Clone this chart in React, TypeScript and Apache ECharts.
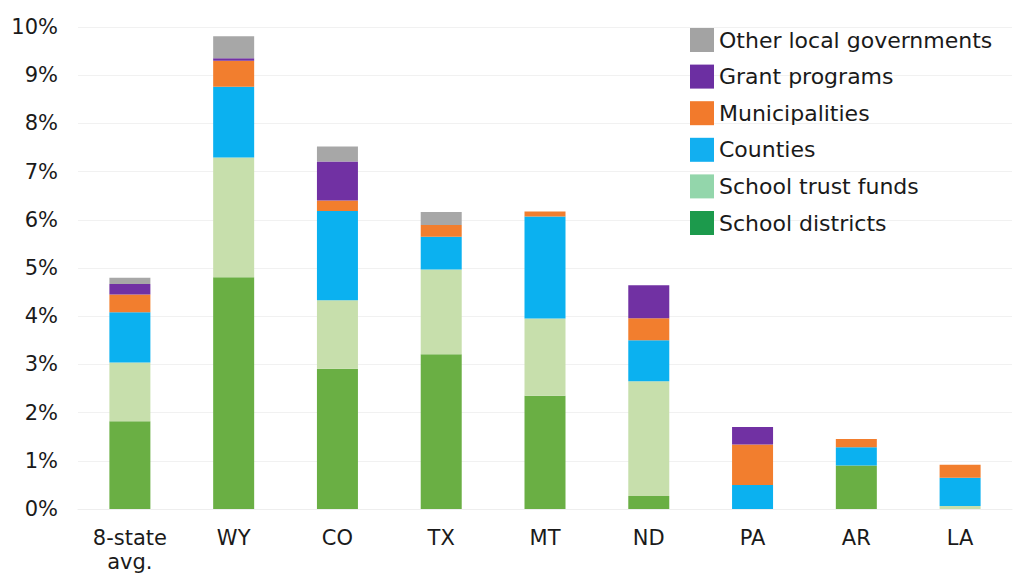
import React, { useEffect, useRef } from "react";
import * as echarts from "echarts";

const categories = ["8-state\navg.", "WY", "CO", "TX", "MT", "ND", "PA", "AR", "LA"];
const schoolDistricts = [1.82, 4.81, 2.91, 3.21, 2.35, 0.27, 0, 0.9, 0];
const schoolTrustFunds = [1.22, 2.48, 1.42, 1.76, 1.6, 2.38, 0, 0, 0.06];
const counties = [1.04, 1.47, 1.85, 0.68, 2.12, 0.85, 0.5, 0.38, 0.59];
const municipalities = [0.37, 0.54, 0.22, 0.24, 0.1, 0.46, 0.84, 0.17, 0.27];
const grantPrograms = [0.22, 0.05, 0.81, 0, 0, 0.68, 0.36, 0, 0];
const otherLocal = [0.13, 0.46, 0.31, 0.27, 0, 0, 0, 0, 0];
const yTicks = [0, 1, 2, 3, 4, 5, 6, 7, 8, 9, 10];

const FONT = "DejaVu Sans";

export default function App() {
  const ref = useRef<HTMLDivElement>(null);
  useEffect(() => {
    if (!ref.current) return;
    const chart = echarts.init(ref.current, undefined, { renderer: "svg" });
    const seriesDefs = [
      { name: "School districts", data: schoolDistricts, color: "#6aaf44", legend: "#1c9a4c" },
      { name: "School trust funds", data: schoolTrustFunds, color: "#c7dfac", legend: "#93d6ab" },
      { name: "Counties", data: counties, color: "#0bb1f0", legend: "#12aff0" },
      { name: "Municipalities", data: municipalities, color: "#f27e2e", legend: "#f27a2c" },
      { name: "Grant programs", data: grantPrograms, color: "#7131a3", legend: "#6c2fa2" },
      { name: "Other local governments", data: otherLocal, color: "#a7a7a7", legend: "#a3a3a3" },
    ];
    chart.setOption({
      animation: false,
      backgroundColor: "#ffffff",
      textStyle: { fontFamily: FONT },
      grid: { left: 78, right: 1, top: 27, bottom: 64, containLabel: false },
      legend: {
        orient: "vertical",
        left: 685,
        top: 23,
        itemWidth: 24,
        itemHeight: 24,
        itemGap: 12.6,
        icon: "rect",
        textStyle: { fontFamily: FONT, fontSize: 22, color: "#1a1a1a", padding: [0, 0, 0, 0] },
        data: seriesDefs
          .slice()
          .reverse()
          .map((s) => ({ name: s.name, itemStyle: { color: s.legend } })),
      },
      xAxis: {
        type: "category",
        data: categories,
        axisLine: { show: true, lineStyle: { color: "#eeeeee" } },
        axisTick: { show: false },
        axisLabel: {
          fontFamily: FONT,
          fontSize: 21,
          color: "#1a1a1a",
          margin: 17,
          lineHeight: 24,
          interval: 0,
        },
      },
      yAxis: {
        type: "value",
        min: 0,
        max: 10,
        interval: 1,
        axisLine: { show: false },
        axisTick: { show: false },
        splitLine: { lineStyle: { color: "#f1f1f1", width: 1 } },
        axisLabel: {
          fontFamily: FONT,
          fontSize: 21,
          color: "#1a1a1a",
          margin: 20,
          formatter: (v: number) => (yTicks.includes(v) ? `${v}%` : ""),
        },
      },
      series: seriesDefs.map((s) => ({
        name: s.name,
        type: "bar",
        stack: "total",
        barWidth: 41,
        data: s.data,
        itemStyle: { color: s.color },
      })),
    });
    return () => chart.dispose();
  }, []);
  return <div ref={ref} style={{ width: 1013, height: 574, position: "absolute", left: 0, top: 0 }} />;
}
